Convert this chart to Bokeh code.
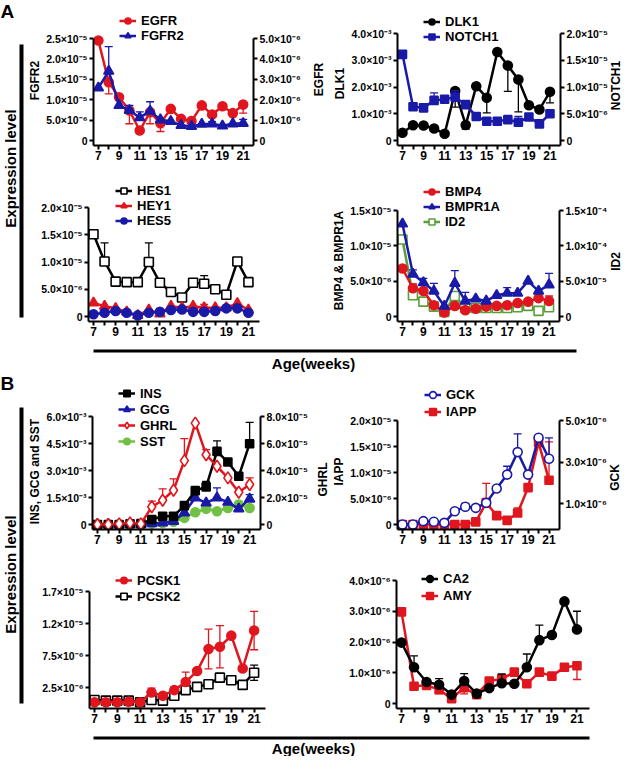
import math
from bokeh.plotting import figure
from bokeh.models import (Range1d, LinearAxis, FixedTicker, Legend, LegendItem,
                          Label, BoxAnnotation, Title)
from bokeh.layouts import row, column
from bokeh.embed import file_html
from bokeh.resources import INLINE

# ---------------- data ----------------
weeks = list(range(7, 22))
odd_weeks = list(range(7, 22, 2))
even_weeks = list(range(8, 21, 2))

EGFR = [4.9e-6, 2.86e-6, 2.12e-6, 1.47e-6, 0.49e-6, 1.39e-6, 0.85e-6, 1.55e-6, 1.06e-6, 0.95e-6, 1.72e-6, 1.27e-6, 1.68e-6, 1.34e-6, 1.76e-6]
EGFR_dn = [0, 0.57e-6, 0, 0.65e-6, 0, 0.57e-6, 0.41e-6, 0, 0, 0, 0, 0, 0, 0, 0.42e-6]
FGFR2 = [1.29e-5, 1.70e-5, 0.86e-5, 0.74e-5, 0.56e-5, 0.72e-5, 0.51e-5, 0.47e-5, 0.37e-5, 0.35e-5, 0.40e-5, 0.41e-5, 0.36e-5, 0.41e-5, 0.42e-5]
FGFR2_up = [0, 0.6e-5, 0, 0.12e-5, 0.14e-5, 0.23e-5, 0, 0, 0, 0, 0, 0.05e-5, 0, 0, 0.1e-5]

DLK1 = [0.29e-3, 0.57e-3, 0.56e-3, 0.45e-3, 0.25e-3, 1.85e-3, 0.58e-3, 2.03e-3, 1.60e-3, 3.31e-3, 2.80e-3, 2.28e-3, 1.32e-3, 1.16e-3, 1.82e-3]
DLK1_dn = [0, 0, 0, 0, 0, 0.6e-3, 0.15e-3, 0, 0.57e-3, 0, 0.96e-3, 1.21e-3, 0, 0, 0.41e-3]
NOTCH1 = [1.61e-5, 0.63e-5, 0.61e-5, 0.75e-5, 0.77e-5, 0.81e-5, 0.67e-5, 0.45e-5, 0.36e-5, 0.36e-5, 0.39e-5, 0.34e-5, 0.44e-5, 0.31e-5, 0.50e-5]
NOTCH1_up = [0, 0, 0, 0.14e-5, 0.07e-5, 0.12e-5, 0, 0, 0, 0, 0, 0.11e-5, 0, 0, 0]

HES1 = [1.51e-5, 1.01e-5, 0.64e-5, 0.63e-5, 0.63e-5, 1.00e-5, 0.62e-5, 0.45e-5, 0.35e-5, 0.62e-5, 0.60e-5, 0.50e-5, 0.40e-5, 1.01e-5, 0.63e-5]
HES1_up = [0, 0.34e-5, 0, 0, 0, 0.35e-5, 0, 0, 0, 0, 0.15e-5, 0, 0, 0, 0]
HEY1 = [0.25e-5, 0.19e-5, 0.15e-5, 0.085e-5, 0.02e-5, 0.12e-5, 0.05e-5, 0.19e-5, 0.16e-5, 0.19e-5, 0.16e-5, 0.16e-5, 0.16e-5, 0.24e-5, 0.12e-5]
HEY1_up = [0, 0, 0, 0, 0, 0, 0, 0, 0, 0, 0.06e-5, 0, 0, 0, 0]
HES5 = [0.04e-5, 0.07e-5, 0.10e-5, 0.07e-5, 0.02e-5, 0.07e-5, 0.085e-5, 0.12e-5, 0.13e-5, 0.085e-5, 0.085e-5, 0.10e-5, 0.15e-5, 0.15e-5, 0.07e-5]

BMP4 = [0.68e-5, 0.40e-5, 0.36e-5, 0.16e-5, 0.056e-5, 0.15e-5, 0.09e-5, 0.11e-5, 0.14e-5, 0.15e-5, 0.16e-5, 0.19e-5, 0.21e-5, 0.26e-5, 0.22e-5]
BMP4_up = [0, 0.06e-5, 0, 0, 0, 0, 0, 0, 0, 0, 0, 0, 0, 0, 0.07e-5]
BMPR1A = [1.31e-5, 0.60e-5, 0.48e-5, 0.36e-5, 0.146e-5, 0.47e-5, 0.22e-5, 0.25e-5, 0.22e-5, 0.30e-5, 0.33e-5, 0.33e-5, 0.50e-5, 0.36e-5, 0.45e-5]
BMPR1A_up = [0, 0.06e-5, 0.06e-5, 0.11e-5, 0, 0.18e-5, 0.12e-5, 0, 0, 0, 0.08e-5, 0, 0, 0, 0.16e-5]
ID2 = [1.09e-4, 0.30e-4, 0.21e-4, 0.14e-4, 0.066e-4, 0.29e-4, 0.12e-4, 0.12e-4, 0.12e-4, 0.12e-4, 0.12e-4, 0.13e-4, 0.15e-4, 0.08e-4, 0.13e-4]

INS = [0, 0, 0, 0.04e-3, 0.05e-3, 0.28e-3, 0.46e-3, 0.46e-3, 1.05e-3, 1.88e-3, 2.09e-3, 4.06e-3, 3.47e-3, 2.68e-3, 4.49e-3]
INS_up = [0, 0, 0, 0, 0, 0, 0, 0, 0, 0, 0.31e-3, 0.59e-3, 0, 0, 1.18e-3]
GCG = [0, 0, 0, 0, 0, 0.05e-3, 0.09e-3, 0.18e-3, 0.65e-3, 1.48e-3, 1.20e-3, 1.48e-3, 1.24e-3, 0.87e-3, 1.42e-3]
GCG_up = [0, 0, 0, 0, 0, 0, 0, 0, 0, 0, 0, 0.55e-3, 0, 0, 0.24e-3]
GHRL = [0, 0, 0.05e-5, 0.12e-5, 0.05e-5, 1.31e-5, 1.80e-5, 2.54e-5, 4.73e-5, 7.51e-5, 5.17e-5, 4.31e-5, 3.45e-5, 2.39e-5, 2.96e-5]
GHRL_up = [0, 0, 0, 0, 0, 0.42e-5, 0.84e-5, 0.84e-5, 1.63e-5, 0, 0.37e-5, 0, 0, 0, 0.49e-5]
SST = [0, 0, 0, 0, 0, 0.05e-3, 0.09e-3, 0.15e-3, 0.37e-3, 0.68e-3, 0.87e-3, 0.74e-3, 0.92e-3, 1.11e-3, 0.92e-3]

GCK = [0, 0, 0.16e-6, 0.13e-6, 0.08e-6, 0.64e-6, 0.85e-6, 0.80e-6, 1.04e-6, 1.73e-6, 2.40e-6, 3.48e-6, 2.40e-6, 4.17e-6, 3.16e-6]
GCK_up = [0, 0, 0, 0, 0, 0, 0.16e-6, 0, 0, 0, 0.4e-6, 0.88e-6, 0, 0, 1.0e-6]
IAPP = [0, 0, 0, 0, 0, 0, 0, 0.05e-5, 0.42e-5, 0.17e-5, 0.08e-5, 0.22e-5, 0.71e-5, 1.58e-5, 0.85e-5]
IAPP_up = [0, 0, 0, 0, 0, 0, 0, 0, 0.37e-5, 0, 0, 0.1e-5, 0, 0, 0.74e-5]

PCSK1 = [0.19e-6, 0.19e-6, 0.19e-6, 0.29e-6, 0.19e-6, 1.73e-6, 1.22e-6, 2.09e-6, 3.37e-6, 5.07e-6, 8.51e-6, 8.87e-6, 10.6e-6, 5.47e-6, 11.4e-6]
PCSK1_up = [0, 0, 0, 0, 0, 0.67e-6, 0, 0.5e-6, 1.54e-6, 0, 3.1e-6, 3.3e-6, 0, 0, 3.0e-6]
PCSK1_dn = [0, 0, 0, 0, 0, 0, 0, 0, 0, 0, 3.1e-6, 3.3e-6, 0, 0, 3.0e-6]
PCSK2 = [0.55e-6, 0.45e-6, 0.45e-6, 0.45e-6, 0.19e-6, 0.55e-6, 0.45e-6, 1.22e-6, 2.09e-6, 2.6e-6, 3.0e-6, 4.04e-6, 3.63e-6, 2.91e-6, 4.81e-6]
PCSK2_up = [0, 0, 0, 0, 0, 0, 0, 0, 0, 0, 0, 0, 0, 0, 1.2e-6]
PCSK2_dn = [0, 0, 0, 0, 0, 0, 0, 0, 0, 0, 0, 0, 0, 0, 1.2e-6]

CA2 = [1.98e-6, 1.18e-6, 0.70e-6, 0.61e-6, 0.29e-6, 0.73e-6, 0.32e-6, 0.50e-6, 0.66e-6, 0.64e-6, 1.18e-6, 2.06e-6, 2.23e-6, 3.32e-6, 2.41e-6]
CA2_up = [0, 0.37e-6, 0, 0.2e-6, 0, 0.24e-6, 0, 0, 0.3e-6, 0, 0.43e-6, 0.49e-6, 0, 0, 0.59e-6]
AMY = [2.98e-6, 0.56e-6, 0.59e-6, 0.45e-6, 0.16e-6, 0.51e-6, 0.29e-6, 0.73e-6, 0.80e-6, 1.02e-6, 0.64e-6, 1.02e-6, 0.89e-6, 1.18e-6, 1.23e-6]
AMY_dn = [0, 0, 0, 0.13e-6, 0, 0.2e-6, 0, 0, 0, 0, 0, 0, 0, 0, 0.45e-6]

# axis ticks
P1_L_TICKS = [0, 5e-6, 1e-5, 1.5e-5, 2e-5, 2.5e-5]
P1_R_TICKS = [0, 1e-6, 2e-6, 3e-6, 4e-6, 5e-6]
P2_L_TICKS = [0, 1e-3, 2e-3, 3e-3, 4e-3]
P2_R_TICKS = [0, 5e-6, 1e-5, 1.5e-5, 2e-5]
P3_L_TICKS = [0, 5e-6, 1e-5, 1.5e-5, 2e-5]
P4_L_TICKS = [0, 5e-6, 1e-5, 1.5e-5]
P4_R_TICKS = [0, 5e-5, 1e-4, 1.5e-4]
P5_L_TICKS = [0, 1.5e-3, 3e-3, 4.5e-3, 6e-3]
P5_R_TICKS = [0, 2e-5, 4e-5, 6e-5, 8e-5]
P6_L_TICKS = [0, 5e-6, 1e-5, 1.5e-5, 2e-5]
P6_R_TICKS = [1e-6, 3e-6, 5e-6]
P7_L_TICKS = [2.5e-6, 7.5e-6, 1.25e-5, 1.75e-5]
P7_L_LABELS = ["2.5×10⁻⁶", "7.5×10⁻⁶", "1.2×10⁻⁵", "1.7×10⁻⁵"]
P8_L_TICKS = [0, 1e-6, 2e-6, 3e-6, 4e-6]

# ---------------- style ----------------
RED = "#e0161e"
BLUE = "#1a1aa8"
BLACK = "#000000"
GREEN_D = "#5a9e3a"
GREEN_L = "#72c043"
FONT = "Liberation Sans"
PAD = 5
LBL_PX = 12

SUP = str.maketrans("-0123456789", "⁻⁰¹²³⁴⁵⁶⁷⁸⁹")
# approximate advance widths (em) of Liberation Sans Bold, used to centre titles
EM = {" ": .278, ",": .278, "&": .722, "1": .556, "2": .556, "4": .556, "A": .722,
      "B": .722, "C": .722, "D": .722, "F": .611, "G": .778, "I": .278, "K": .722,
      "L": .611, "M": .833, "N": .722, "P": .667, "R": .722, "S": .667, "T": .611,
      "a": .556, "d": .611, "n": .611}


def text_len(t, px):
    return sum(EM.get(c, .6) for c in t) * px


def sci(v):
    if v == 0:
        return "0"
    e = math.floor(math.log10(v) + 1e-9)
    m = v / 10 ** e
    return f"{m:.1f}×10" + str(e).translate(SUP)


def style_axis(ax, size="10.5px"):
    ax.axis_line_width = 2
    ax.axis_line_color = "black"
    ax.major_tick_line_width = 2
    ax.minor_tick_line_width = 2
    ax.major_tick_line_color = "black"
    ax.minor_tick_line_color = "black"
    ax.major_tick_in = 0
    ax.major_tick_out = 4
    ax.minor_tick_in = 0
    ax.minor_tick_out = 4
    ax.major_label_text_font = FONT
    ax.major_label_text_font_style = "bold"
    ax.major_label_text_font_size = size
    ax.major_label_text_color = "black"
    ax.major_label_standoff = 2


def panel(W, H, box, ytop, yticks, ylabels=None, ylabel=None, lcen=None,
          right=None, xend=22):
    # box: axis-line positions in px inside the figure (left, right, top, bottom)
    ax_l, ax_r, ax_t, ax_b = box
    pxw = (ax_r - ax_l) / (xend - 7)
    pxh = (ax_b - ax_t) / ytop
    x0 = 7 - PAD / pxw
    y0 = -PAD / pxh
    p = figure(width=W, height=H, output_backend="svg", toolbar_location=None,
               x_range=Range1d(x0, xend), y_range=Range1d(y0, ytop + ax_t / pxh),
               min_border_left=ax_l - PAD, min_border_right=W - ax_r,
               min_border_top=0, min_border_bottom=H - ax_b - PAD)
    p.outline_line_color = None
    p.grid.visible = False
    p.background_fill_color = "white"
    p.border_fill_color = "white"
    xa = p.xaxis[0]
    style_axis(xa, "12px")
    xa.ticker = FixedTicker(ticks=odd_weeks, minor_ticks=even_weeks)
    xa.bounds = (x0, xend)
    xa.major_label_standoff = 1
    ya = p.yaxis[0]
    style_axis(ya)
    ya.ticker = FixedTicker(ticks=yticks, minor_ticks=[])
    labels = ylabels if ylabels else [sci(v) for v in yticks]
    ya.major_label_overrides = dict(zip(yticks, labels))
    ya.bounds = (y0, ytop)
    if ylabel:
        fbot = ax_b + PAD
        off = fbot - lcen - text_len(ylabel, LBL_PX) / 2
        p.add_layout(Title(text=ylabel, align="left", offset=off, standoff=3,
                           text_font=FONT, text_font_style="bold",
                           text_font_size=f"{LBL_PX}px", text_color="black"), "left")
    if right:
        rtop, rticks, rlabel, rcen, rx = right
        pxr = (ax_b - ax_t) / rtop
        p.extra_y_ranges = {"r": Range1d(-PAD / pxr, rtop + ax_t / pxr)}
        ra = LinearAxis(y_range_name="r")
        style_axis(ra)
        ra.ticker = FixedTicker(ticks=rticks, minor_ticks=[])
        ra.major_label_overrides = {v: sci(v) for v in rticks}
        ra.bounds = (-PAD / pxr, rtop)
        p.add_layout(ra, "right")
        # right-hand axis title, reading bottom-to-top like the reference
        p.add_layout(Label(x=rx, x_units="screen", y=(ax_b - rcen) / pxh, y_units="data",
                           text=rlabel, angle=math.pi / 2, text_align="center",
                           text_baseline="middle", text_font=FONT, text_font_style="bold",
                           text_font_size=f"{LBL_PX}px", text_color="black"), "right")
    return p


def series(p, y, color, marker, size, fill=None, up=None, dn=None, rng=None):
    kw = {"y_range_name": rng} if rng else {}
    for errs, sign in ((up, 1), (dn, -1)):
        if errs is None:
            continue
        xs = [w for w, e in zip(weeks, errs) if e]
        y0 = [v for v, e in zip(y, errs) if e]
        y1 = [v + sign * e for v, e in zip(y, errs) if e]
        p.segment(x0=xs, y0=y0, x1=xs, y1=y1, line_color=color, line_width=1.3, **kw)
        p.scatter(x=xs, y=y1, marker="dash", size=8, line_color=color, line_width=1.3, **kw)
    ln = p.line(weeks, y, line_color=color, line_width=2.5, **kw)
    sc = p.scatter(weeks, y, marker=marker, size=size, fill_color=fill or color,
                   line_color=color, line_width=1.6, **kw)
    return [ln, sc]


def legend(p, box, items, left, top, rh):
    ax_l, ax_r, ax_t, ax_b = box
    vx = left - (ax_l - PAD)
    vy = (ax_b + PAD) - (top + rh * len(items))
    leg = Legend(items=[LegendItem(label=n, renderers=r) for n, r in items],
                 location=(vx, vy), orientation="vertical", padding=0, margin=0,
                 spacing=0, border_line_color=None, background_fill_alpha=0,
                 glyph_width=17, glyph_height=rh, label_height=rh, label_standoff=5,
                 label_text_font=FONT, label_text_font_style="bold",
                 label_text_font_size="13px", label_text_baseline="middle",
                 label_text_color="black")
    p.add_layout(leg)


def deco(W, H):
    p = figure(width=W, height=H, x_range=Range1d(0, W), y_range=Range1d(H, 0),
               x_axis_type=None, y_axis_type=None, output_backend="svg",
               toolbar_location=None, min_border=0)
    p.outline_line_color = None
    p.grid.visible = False
    return p


def txt(p, x, y, t, size, angle=0, align="center", baseline="middle"):
    p.add_layout(Label(x=x, y=y, text=t, angle=angle, text_align=align,
                       text_baseline=baseline, text_font=FONT, text_font_style="bold",
                       text_font_size=size, text_color="black"))


# ---------------- panels ----------------
B1 = (70, 229, 38, 140)
p1 = panel(304, 177, B1, 2.5e-5, P1_L_TICKS, ylabel="FGFR2", lcen=80,
           right=(5e-6, P1_R_TICKS, "EGFR", 79, 15))
r_egfr = series(p1, EGFR, RED, "circle", 9, dn=EGFR_dn, rng="r")
r_fgfr2 = series(p1, FGFR2, BLUE, "triangle", 10, up=FGFR2_up)
legend(p1, B1, [("EGFR", r_egfr), ("FGFR2", r_fgfr2)], 91, 13, 15)

B2 = (74, 232, 33, 140)
p2 = panel(296, 177, B2, 4e-3, P2_L_TICKS, ylabel="DLK1", lcen=83,
           right=(2e-5, P2_R_TICKS, "NOTCH1", 85, 5))
r_dlk1 = series(p2, DLK1, BLACK, "circle", 9, dn=DLK1_dn)
r_notch1 = series(p2, NOTCH1, BLUE, "square", 8, up=NOTCH1_up, rng="r")
legend(p2, B2, [("DLK1", r_dlk1), ("NOTCH1", r_notch1)], 95, 14, 15)

B3 = (69, 235, 30, 139)
p3 = panel(304, 165, B3, 2e-5, P3_L_TICKS)
r_hes1 = series(p3, HES1, BLACK, "square", 9, fill="white", up=HES1_up)
r_hey1 = series(p3, HEY1, RED, "triangle", 10, up=HEY1_up)
r_hes5 = series(p3, HES5, BLUE, "circle", 9)
legend(p3, B3, [("HES1", r_hes1), ("HEY1", r_hey1), ("HES5", r_hes5)], 91, 6, 15)

B4 = (74, 232, 33, 139)
p4 = panel(296, 165, B4, 1.5e-5, P4_L_TICKS, ylabel="BMP4 & BMPR1A", lcen=83,
           right=(1.5e-4, P4_R_TICKS, "ID2", 84, 5))
r_id2 = series(p4, ID2, GREEN_D, "square", 9, fill="white", rng="r")
r_bmp4 = series(p4, BMP4, RED, "circle", 9, up=BMP4_up)
r_bmpr = series(p4, BMPR1A, BLUE, "triangle", 10, up=BMPR1A_up)
legend(p4, B4, [("BMP4", r_bmp4), ("BMPR1A", r_bmpr), ("ID2", r_id2)], 95, 7, 15)

B5 = (70, 236, 44, 152)
p5 = panel(304, 192, B5, 6e-3, P5_L_TICKS, ylabel="INS, GCG and SST", lcen=99,
           right=(8e-5, P5_R_TICKS, "GHRL", 107, 12))
r_sst = series(p5, SST, GREEN_L, "circle", 9)
r_gcg = series(p5, GCG, BLUE, "triangle", 10, up=GCG_up)
r_ins = series(p5, INS, BLACK, "square", 8, up=INS_up)
r_ghrl = series(p5, GHRL, RED, "diamond", 12, fill="white", up=GHRL_up, rng="r")
legend(p5, B5, [("INS", r_ins), ("GCG", r_gcg), ("GHRL", r_ghrl), ("SST", r_sst)], 91, 13, 16)

B6 = (73, 231, 48, 152)
p6 = panel(296, 192, B6, 2e-5, P6_L_TICKS, ylabel="IAPP", lcen=99,
           right=(5e-6, P6_R_TICKS, "GCK", 105, 5))
r_iapp = series(p6, IAPP, RED, "square", 8, up=IAPP_up)
r_gck = series(p6, GCK, BLUE, "circle", 9, fill="white", up=GCK_up, rng="r")
legend(p6, B6, [("GCK", r_gck), ("IAPP", r_iapp)], 95, 14, 17)

B7 = (70, 241, 27, 139)
p7 = panel(304, 165, B7, 1.75e-5, P7_L_TICKS, ylabels=P7_L_LABELS)
r_pcsk2 = series(p7, PCSK2, BLACK, "square", 9, fill="white", up=PCSK2_up, dn=PCSK2_dn)
r_pcsk1 = series(p7, PCSK1, RED, "circle", 9, up=PCSK1_up, dn=PCSK1_dn)
legend(p7, B7, [("PCSK1", r_pcsk1), ("PCSK2", r_pcsk2)], 91, 8, 16)

B8 = (73, 261, 16, 139)
p8 = panel(296, 165, B8, 4e-6, P8_L_TICKS)
r_amy = series(p8, AMY, RED, "square", 8, dn=AMY_dn)
r_ca2 = series(p8, CA2, BLACK, "circle", 9, up=CA2_up)
legend(p8, B8, [("CA2", r_ca2), ("AMY", r_amy)], 93, 6, 17)

# ---------------- decorations ----------------
stripA = deco(24, 372)
txt(stripA, 0, 0, "A", "19px", align="left", baseline="top")
stripA.add_layout(BoxAnnotation(left=19, right=23, top=44, bottom=317, fill_color="black",
                                fill_alpha=1, line_color=None))
txt(stripA, 10, 168, "Expression level", "15px", angle=math.pi / 2)

stripB = deco(24, 384)
txt(stripB, 0, 0, "B", "19px", align="left", baseline="top")
stripB.add_layout(BoxAnnotation(left=19, right=23, top=35, bottom=331, fill_color="black",
                                fill_alpha=1, line_color=None))
txt(stripB, 10, 202, "Expression level", "15px", angle=math.pi / 2)

ageA = deco(600, 30)
ageA.add_layout(BoxAnnotation(left=69, right=552, top=7, bottom=10, fill_color="black",
                              fill_alpha=1, line_color=None))
txt(ageA, 289, 21, "Age(weeks)", "15px")

ageB = deco(600, 27)
ageB.add_layout(BoxAnnotation(left=69, right=565, top=7, bottom=10, fill_color="black",
                              fill_alpha=1, line_color=None))
txt(ageB, 289, 19, "Age(weeks)", "15px")

secA = row(stripA, column(row(p1, p2), row(p3, p4), ageA))
secB = row(stripB, column(row(p5, p6), row(p7, p8), ageB))
layout = column(secA, secB)

open("out.html", "w").write(file_html(layout, INLINE))
